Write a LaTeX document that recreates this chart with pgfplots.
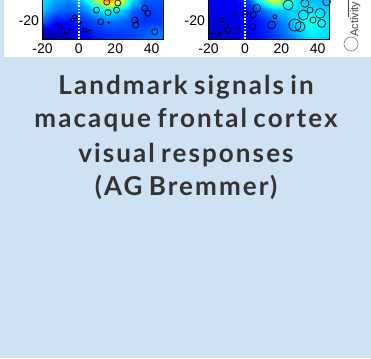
\documentclass[border=0pt]{standalone}
\usepackage{pgfplots}
\pgfplotsset{compat=1.18}
\usepackage{pgfplotstable}
\usepackage{fontspec}
\setmainfont{Lato}
\newfontfamily\arial{Liberation Sans}
\newfontfamily\titlefont[LetterSpace=8,WordSpace=0.75]{Lato Bold}
\definecolor{panel}{HTML}{CFE2F3}
\definecolor{txt}{HTML}{333333}

\pgfplotstableread{
x y c
-20 -32 0.03
-13 -32 0.04
-6 -32 0.06
1 -32 0.08
8 -32 0.12
15 -32 0.15
22 -32 0.17
29 -32 0.19
36 -32 0.22
43 -32 0.25
50 -32 0.24
-20 -26 0.06
-13 -26 0.06
-6 -26 0.08
1 -26 0.12
8 -26 0.16
15 -26 0.18
22 -26 0.18
29 -26 0.19
36 -26 0.21
43 -26 0.24
50 -26 0.22
-20 -20 0.22
-13 -20 0.14
-6 -20 0.14
1 -20 0.17
8 -20 0.20
15 -20 0.24
22 -20 0.23
29 -20 0.19
36 -20 0.17
43 -20 0.18
50 -20 0.18
-20 -14 0.32
-13 -14 0.24
-6 -14 0.21
1 -14 0.24
8 -14 0.32
15 -14 0.40
22 -14 0.35
29 -14 0.23
36 -14 0.18
43 -14 0.19
50 -14 0.19
-20 -8 0.36
-13 -8 0.30
-6 -8 0.26
1 -8 0.33
8 -8 0.52
15 -8 0.80
22 -8 0.66
29 -8 0.36
36 -8 0.21
43 -8 0.21
50 -8 0.21
-20 -2 0.38
-13 -2 0.33
-6 -2 0.30
1 -2 0.40
8 -2 0.62
15 -2 0.95
22 -2 0.85
29 -2 0.46
36 -2 0.22
43 -2 0.21
50 -2 0.21
}\heatA

\pgfplotstableread{
x y c
-20 -32 0.03
-13 -32 0.05
-6 -32 0.08
1 -32 0.11
8 -32 0.14
15 -32 0.18
22 -32 0.22
29 -32 0.27
36 -32 0.32
43 -32 0.33
50 -32 0.32
-20 -26 0.06
-13 -26 0.07
-6 -26 0.09
1 -26 0.11
8 -26 0.14
15 -26 0.18
22 -26 0.24
29 -26 0.32
36 -26 0.37
43 -26 0.35
50 -26 0.33
-20 -20 0.09
-13 -20 0.09
-6 -20 0.10
1 -20 0.12
8 -20 0.15
15 -20 0.20
22 -20 0.27
29 -20 0.35
36 -20 0.40
43 -20 0.36
50 -20 0.34
-20 -14 0.11
-13 -14 0.11
-6 -14 0.11
1 -14 0.15
8 -14 0.22
15 -14 0.30
22 -14 0.32
29 -14 0.33
36 -14 0.36
43 -14 0.34
50 -14 0.32
-20 -8 0.12
-13 -8 0.12
-6 -8 0.12
1 -8 0.20
8 -8 0.42
15 -8 0.62
22 -8 0.46
29 -8 0.33
36 -8 0.31
43 -8 0.30
50 -8 0.29
-20 -2 0.13
-13 -2 0.13
-6 -2 0.13
1 -2 0.25
8 -2 0.55
15 -2 0.80
22 -2 0.62
29 -2 0.36
36 -2 0.31
43 -2 0.30
50 -2 0.29
}\heatB

\pgfplotsset{
  heatax/.style={
    scale only axis, width=121pt, height=54.6pt,
    xmin=-20, xmax=46.5, ymin=-30, ymax=0,
    colormap/jet, point meta min=0, point meta max=1,
    xtick={-20,0,20,40}, ytick={-20},
    major tick length=0pt,
    axis line style={black, line width=0.6pt},
    /pgf/number format/assume math mode=true,
    tick label style={font=\arial\fontsize{14}{14}\selectfont, text=black},
    xticklabel style={yshift=-1pt},
    axis on top,
  },
  circ/.style={only marks, mark=o, mark options={draw=black, draw opacity=0.8, line width=0.9pt}},
}

\begin{document}
\begin{tikzpicture}
\useasboundingbox (0pt,-358pt) rectangle (371pt,0pt);
\clip (0pt,-358pt) rectangle (371pt,0pt);
\fill[panel] (0pt,-358pt) rectangle (371pt,0pt);
\fill[white] (4pt,-57pt) rectangle (371pt,0pt);

\begin{axis}[heatax, at={(42.5pt,-39pt)}, anchor=south west]
\addplot[surf, shader=interp, mesh/cols=11, point meta=explicit] table[x=x,y=y,meta=c] {\heatA};
\addplot[white, line width=2pt, dash pattern=on 1.6pt off 1.6pt] coordinates {(0,-30) (0,0)};
\addplot[circ, mark size=3pt] coordinates {(9.7,-14.1) (16.0,-15.5) (20.7,-14.1) (12.0,-20.5) (30.7,-19.6) (31.3,-22.3) (36.2,-13.1) (37.9,-15.9) (41.7,-26) (15.3,-9.7) (21.4,-10.2)};
\addplot[circ, mark size=2pt] coordinates {(-2.3,-17.7) (-3.4,-19.6) (3.2,-25) (6,-26.2)};
\addplot[only marks, mark=*, mark size=1.3pt, black, opacity=0.7] coordinates {(16.4,-21.0) (-9.4,-23.4) (-5,-25) (-7.2,-26.7) (-12,-22) (1,-21)};
\end{axis}

\begin{axis}[heatax, at={(208.5pt,-39pt)}, anchor=south west]
\addplot[surf, shader=interp, mesh/cols=11, point meta=explicit] table[x=x,y=y,meta=c] {\heatB};
\addplot[white, line width=2pt, dash pattern=on 1.6pt off 1.6pt] coordinates {(0,-30) (0,0)};
\addplot[circ, mark size=2pt] coordinates {(16.5,-17.7) (-12.6,-19.6)};
\addplot[circ, mark size=3pt] coordinates {(4.6,-16.8) (35.8,-14.1) (37.4,-19.6) (0.1,-15.9) (4.5,-23.2) (-9.3,-25)};
\addplot[circ, mark size=4pt] coordinates {(6.5,-13.1) (14.7,-22.3) (33.0,-10.4) (42.2,-21.4) (44.9,-9.5)};
\addplot[circ, mark size=5pt] coordinates {(23.8,-11.3) (32.1,-16.8) (30.3,-23.2) (41.3,-15.9)};
\addplot[circ, mark size=6pt] coordinates {(27.5,-22.3)};
\addplot[only marks, mark=*, mark size=1.5pt, black, opacity=0.7] coordinates {(-5.4,-16.8) (-3.8,-24) (-14,-27)};
\end{axis}

\draw[black!75, line width=0.6pt] (348pt,0pt) -- (348pt,-17pt);
\node[rotate=90, anchor=base west, inner sep=0pt, font=\arial\fontsize{11}{11}\selectfont, text=black!75] at (358pt,-37pt) {Activity};
\draw[black!45, line width=0.7pt] (351pt,-44pt) circle (7pt);

\node[anchor=base, inner sep=0pt, font=\titlefont\fontsize{26}{30}\selectfont, text=txt] at (186pt,-95pt) {Landmark signals in};
\node[anchor=base, inner sep=0pt, font=\titlefont\fontsize{26}{30}\selectfont, text=txt] at (186pt,-128pt) {macaque frontal cortex};
\node[anchor=base, inner sep=0pt, font=\titlefont\fontsize{26}{30}\selectfont, text=txt] at (186pt,-162pt) {visual responses};
\node[anchor=base, inner sep=0pt, font=\titlefont\fontsize{26}{30}\selectfont, text=txt] at (186pt,-195pt) {(AG Bremmer)};
\end{tikzpicture}
\end{document}
